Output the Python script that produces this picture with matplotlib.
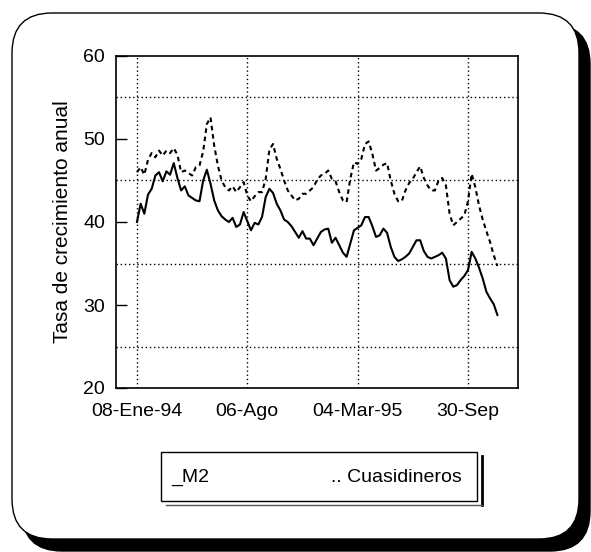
import numpy as np
import pandas as pd
import matplotlib
matplotlib.use('Agg')
import matplotlib.pyplot as plt
import matplotlib.transforms as mtransforms
from matplotlib.patches import FancyBboxPatch, Rectangle
from matplotlib.lines import Line2D

# Weekly annual growth rates (%), starting 08-Ene-94
m2 = [40.0, 42.2, 41.0, 43.3, 44.0, 45.6, 46.0, 44.9, 46.1, 45.7,
      47.1, 45.3, 43.8, 44.3, 43.2, 42.9, 42.6, 42.5, 45.0, 46.3,
      44.6, 42.6, 41.4, 40.7, 40.3, 40.0, 40.5, 39.4, 39.7, 41.2,
      40.1, 39.0, 39.9, 39.7, 40.6, 43.0, 44.0, 43.5, 42.2, 41.4,
      40.3, 40.0, 39.5, 38.8, 38.1, 38.9, 38.0, 38.0, 37.2, 38.0,
      38.8, 39.1, 39.2, 37.5, 38.1, 37.2, 36.3, 35.8, 37.4, 39.0,
      39.3, 39.6, 40.6, 40.6, 39.5, 38.2, 38.4, 39.2, 38.7, 37.0,
      35.8, 35.3, 35.5, 35.8, 36.2, 37.0, 37.8, 37.8, 36.5, 35.8,
      35.6, 35.8, 36.0, 36.3, 35.6, 33.0, 32.2, 32.4, 33.0, 33.5,
      34.2, 36.4, 35.6, 34.5, 33.2, 31.6, 30.8, 30.1, 28.8]
cuasi = [46.0, 46.6, 45.7, 47.5, 48.3, 47.8, 48.6, 48.0, 48.6, 48.3,
         48.9, 48.1, 46.0, 46.2, 45.9, 45.6, 46.6, 46.8, 48.5, 51.8,
         52.6, 49.2, 46.8, 45.0, 44.2, 43.8, 44.3, 43.6, 44.2, 44.8,
         43.2, 42.5, 43.1, 43.6, 43.6, 45.2, 48.7, 49.4, 47.6, 46.4,
         45.0, 43.8, 43.2, 42.6, 42.8, 43.4, 43.4, 43.8, 44.2, 45.1,
         45.6, 45.8, 46.2, 45.2, 44.9, 43.6, 42.6, 42.4, 45.2, 47.2,
         47.0, 47.6, 49.4, 49.7, 48.2, 46.2, 46.5, 46.9, 47.1, 45.0,
         43.4, 42.5, 42.5, 43.8, 44.7, 45.2, 46.0, 46.7, 45.3, 44.4,
         43.8, 43.8, 45.0, 45.3, 44.4, 41.0, 39.6, 40.0, 40.4, 40.8,
         42.5, 45.8, 44.2, 42.0, 40.3, 38.9, 37.6, 36.0, 34.7]
dates = pd.date_range('1994-01-08', periods=len(m2), freq='7D')

tick_idx = [0, 30, 60, 90]
tick_labels = ['08-Ene-94', '06-Ago', '04-Mar-95', '30-Sep']
y_ticks = [20, 30, 40, 50, 60]
y_grid = [25, 35, 45, 55]

plt.rcParams['font.family'] = ['Liberation Sans', 'DejaVu Sans']

W, H = 591, 552
fig = plt.figure(figsize=(W / 100, H / 100), dpi=100)
fig.patch.set_facecolor('white')

# pixel coordinates measured from the top-left corner
px = mtransforms.Affine2D().scale(1 / W, -1 / H).translate(0, 1) + fig.transFigure

# rounded outer frame with a heavy drop shadow
shadow = FancyBboxPatch((22, 24), 568, 527, boxstyle='round,pad=0,rounding_size=40',
                        transform=px, facecolor='black', edgecolor='black', zorder=0)
frame = FancyBboxPatch((12, 13), 567, 526, boxstyle='round,pad=0,rounding_size=40',
                       transform=px, facecolor='white', edgecolor='black', lw=1.0, zorder=1)
fig.patches.extend([shadow, frame])

ax = fig.add_axes([116 / W, 1 - 388 / H, (518 - 116) / W, (388 - 56) / H])
ax.set_zorder(2)
ax.patch.set_facecolor('white')

ax.plot(dates, m2, color='black', lw=1.5, solid_joinstyle='round')
ax.plot(dates, cuasi, color='black', lw=1.5, linestyle=(0, (2.2, 1.8)))

step = dates[1] - dates[0]
ax.set_xlim(dates[0] - 5.7 * step, dates[0] + 103.6 * step)
ax.set_ylim(20, 60)

ax.set_xticks(dates[tick_idx])
ax.set_xticklabels(tick_labels)
ax.set_yticks(y_ticks)
ax.set_yticks(y_grid, minor=True)

ax.tick_params(axis='x', length=0, pad=11, labelsize=14)
ax.tick_params(axis='y', which='major', direction='in', length=8, width=1,
               pad=8, labelsize=14, right=False)
ax.tick_params(axis='y', which='minor', length=0)

dot = (0, (1, 2))
ax.grid(True, axis='x', which='major', color='black', lw=1.0, linestyle=dot)
ax.grid(True, axis='y', which='minor', color='black', lw=1.0, linestyle=dot)
ax.grid(False, axis='y', which='major')

for s in ax.spines.values():
    s.set_linewidth(1.2)

ax.set_ylabel('Tasa de crecimiento anual', fontsize=15, labelpad=8)

# legend panel below the chart
fig.add_artist(Line2D([482, 482], [456, 505], transform=px, color='black', lw=2, zorder=3))
fig.add_artist(Line2D([166, 482], [505, 505], transform=px, color='#555555', lw=1, zorder=3))
fig.add_artist(Rectangle((161, 452), 316, 49, transform=px, facecolor='white',
                         edgecolor='black', lw=1.0, zorder=4))
fig.text(171 / W, 1 - 477 / H, '_M2', transform=fig.transFigure, fontsize=14,
         va='center', ha='left', zorder=5)
fig.text(462 / W, 1 - 477 / H, '.. Cuasidineros', transform=fig.transFigure, fontsize=14,
         va='center', ha='right', zorder=5)

fig.savefig('out.png', dpi=100)
